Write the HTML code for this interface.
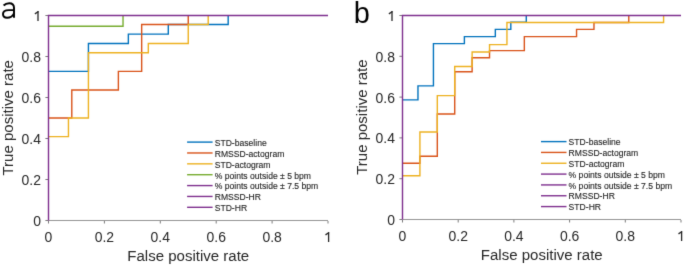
<!DOCTYPE html>
<html><head><meta charset="utf-8"><style>
html,body{margin:0;padding:0;background:#fff;}
svg{display:block;will-change:transform;}
text{font-family:"Liberation Sans",sans-serif;}
.tl{font-size:14.9px;fill:#262626;}
.al{font-size:15.5px;fill:#262626;}
.lg{font-size:8.6px;fill:#262626;stroke:#262626;stroke-width:0.12px;}
.pl{font-size:29.5px;fill:#000;}
</style></head><body>
<svg width="685" height="266" viewBox="0 0 685 266">
<defs><filter id="sf" x="0" y="0" width="1" height="1" color-interpolation-filters="sRGB"><feConvolveMatrix order="3" kernelMatrix="0.0100 0.0800 0.0100 0.0800 0.6400 0.0800 0.0100 0.0800 0.0100" divisor="1" edgeMode="duplicate"/></filter></defs>
<g filter="url(#sf)">
<rect width="685" height="266" fill="#fff"/>
<path d="M48.5 220.5H328M48.5 220.5V15.5" stroke="#959595" stroke-width="1.0" fill="none"/>
<path d="M48.50 221.0v2.5 M48.0 220.50h-2.6 M104.40 221.0v2.5 M48.0 179.50h-2.6 M160.30 221.0v2.5 M48.0 138.50h-2.6 M216.20 221.0v2.5 M48.0 97.50h-2.6 M272.10 221.0v2.5 M48.0 56.50h-2.6 M328.00 221.0v2.5 M48.0 15.50h-2.6" stroke="#7a7a7a" stroke-width="1.0" fill="none"/>
<path d="M48.5 71.41 L88.43 71.41 L88.43 43.45 L128.36 43.45 L128.36 34.14 L168.29 34.14 L168.29 24.55 L228.18 24.55 L228.18 15.5" stroke="#0072BD" stroke-width="1.4" fill="none" stroke-linejoin="miter" stroke-linecap="butt"/>
<path d="M48.5 118.0 L71.79 118.0 L71.79 90.05 L118.38 90.05 L118.38 71.41 L141.67 71.41 L141.67 24.55 L188.25 24.55 L188.25 15.5" stroke="#D95319" stroke-width="1.4" fill="none" stroke-linejoin="miter" stroke-linecap="butt"/>
<path d="M48.5 136.64 L68.46 136.64 L68.46 118.0 L88.43 118.0 L88.43 52.77 L148.32 52.77 L148.32 43.45 L188.25 43.45 L188.25 24.55 L208.21 24.55 L208.21 15.5" stroke="#EDB120" stroke-width="1.4" fill="none" stroke-linejoin="miter" stroke-linecap="butt"/>
<path d="M48.5 26.29 L123.03 26.29 L123.03 15.5" stroke="#77AC30" stroke-width="1.4" fill="none" stroke-linejoin="miter" stroke-linecap="butt"/>
<path d="M48.5 220.5 L48.5 15.5 L328.0 15.5" stroke="#7E2F8E" stroke-width="1.4" fill="none" stroke-linejoin="miter" stroke-linecap="butt"/>
<text transform="translate(48.50 242.00) scale(0.937 1.0)" text-anchor="middle" class="tl">0</text>
<text transform="translate(41.00 226.00) scale(0.937 1.0)" text-anchor="end" class="tl">0</text>
<text transform="translate(104.40 242.00) scale(0.937 1.0)" text-anchor="middle" class="tl">0.2</text>
<text transform="translate(41.00 185.00) scale(0.937 1.0)" text-anchor="end" class="tl">0.2</text>
<text transform="translate(160.30 242.00) scale(0.937 1.0)" text-anchor="middle" class="tl">0.4</text>
<text transform="translate(41.00 144.00) scale(0.937 1.0)" text-anchor="end" class="tl">0.4</text>
<text transform="translate(216.20 242.00) scale(0.937 1.0)" text-anchor="middle" class="tl">0.6</text>
<text transform="translate(41.00 103.00) scale(0.937 1.0)" text-anchor="end" class="tl">0.6</text>
<text transform="translate(272.10 242.00) scale(0.937 1.0)" text-anchor="middle" class="tl">0.8</text>
<text transform="translate(41.00 62.00) scale(0.937 1.0)" text-anchor="end" class="tl">0.8</text>
<path d="M328.60 242.00V232.10" stroke="#262626" stroke-width="1.3" fill="none"/><path d="M329.05 232.45L325.50 234.85" stroke="#262626" stroke-width="1.3" fill="none"/>
<path d="M38.00 21.00V11.10" stroke="#262626" stroke-width="1.3" fill="none"/><path d="M38.45 11.45L34.90 13.85" stroke="#262626" stroke-width="1.3" fill="none"/>
<text transform="translate(188.25 260.50) scale(0.97 1.0)" text-anchor="middle" class="al">False positive rate</text>
<text transform="translate(12.7 117.80) rotate(-90) scale(0.97 1.0)" text-anchor="middle" class="al">True positive rate</text>
<path d="M187.1 142.10h25.5" stroke="#0072BD" stroke-width="1.4"/>
<text transform="translate(214.70 145.90) scale(1.0 1.15)" text-anchor="start" class="lg">STD-baseline</text>
<path d="M187.1 152.97h25.5" stroke="#D95319" stroke-width="1.4"/>
<text transform="translate(214.70 156.77) scale(1.0 1.15)" text-anchor="start" class="lg">RMSSD-actogram</text>
<path d="M187.1 163.84h25.5" stroke="#EDB120" stroke-width="1.4"/>
<text transform="translate(214.70 167.64) scale(1.0 1.15)" text-anchor="start" class="lg">STD-actogram</text>
<path d="M187.1 174.71h25.5" stroke="#77AC30" stroke-width="1.4"/>
<text transform="translate(214.70 178.51) scale(1.0 1.15)" text-anchor="start" class="lg">% points outside ± 5 bpm</text>
<path d="M187.1 185.58h25.5" stroke="#7E2F8E" stroke-width="1.4"/>
<text transform="translate(214.70 189.38) scale(1.0 1.15)" text-anchor="start" class="lg">% points outside ± 7.5 bpm</text>
<path d="M187.1 196.45h25.5" stroke="#7E2F8E" stroke-width="1.4"/>
<text transform="translate(214.70 200.25) scale(1.0 1.15)" text-anchor="start" class="lg">RMSSD-HR</text>
<path d="M187.1 207.32h25.5" stroke="#7E2F8E" stroke-width="1.4"/>
<text transform="translate(214.70 211.12) scale(1.0 1.15)" text-anchor="start" class="lg">STD-HR</text>
<path d="M3.6 5.5C5.1 3.9 7.1 3.2 9.2 3.2C12.4 3.2 14.0 4.8 14.0 7.8V17.8M14.0 10.1H8.8C5.0 10.1 3.0 11.6 3.0 14.1C3.0 16.4 4.7 17.8 7.1 17.8C10.2 17.8 12.6 16.2 14.0 13.4" stroke="#000" stroke-width="1.95" fill="none"/>
<path d="M402.5 219.5H681M402.5 219.5V15.5" stroke="#959595" stroke-width="1.0" fill="none"/>
<path d="M402.50 220.0v2.5 M402.0 219.50h-2.6 M458.20 220.0v2.5 M402.0 178.70h-2.6 M513.90 220.0v2.5 M402.0 137.90h-2.6 M569.60 220.0v2.5 M402.0 97.10h-2.6 M625.30 220.0v2.5 M402.0 56.30h-2.6 M681.00 220.0v2.5 M402.0 15.50h-2.6" stroke="#7a7a7a" stroke-width="1.0" fill="none"/>
<path d="M402.5 99.91 L417.97 99.91 L417.97 85.84 L433.44 85.84 L433.44 43.64 L464.39 43.64 L464.39 36.6 L495.33 36.6 L495.33 29.35 L510.81 29.35 L510.81 22.3 L526.28 22.3 L526.28 15.5" stroke="#0072BD" stroke-width="1.4" fill="none" stroke-linejoin="miter" stroke-linecap="butt"/>
<path d="M402.5 163.22 L419.91 163.22 L419.91 156.19 L437.31 156.19 L437.31 113.98 L454.72 113.98 L454.72 71.78 L472.12 71.78 L472.12 57.71 L489.53 57.71 L489.53 50.67 L524.34 50.67 L524.34 36.6 L576.56 36.6 L576.56 29.35 L593.97 29.35 L593.97 22.45 L628.78 22.45 L628.78 15.5" stroke="#D95319" stroke-width="1.4" fill="none" stroke-linejoin="miter" stroke-linecap="butt"/>
<path d="M402.5 175.79 L419.91 175.79 L419.91 132.07 L437.31 132.07 L437.31 95.64 L454.72 95.64 L454.72 66.5 L472.12 66.5 L472.12 51.93 L489.53 51.93 L489.53 44.64 L506.94 44.64 L506.94 22.45 L663.59 22.45 L663.59 15.5" stroke="#EDB120" stroke-width="1.4" fill="none" stroke-linejoin="miter" stroke-linecap="butt"/>
<path d="M402.5 219.5 L402.5 15.5 L681.0 15.5" stroke="#7E2F8E" stroke-width="1.4" fill="none" stroke-linejoin="miter" stroke-linecap="butt"/>
<text transform="translate(402.50 241.00) scale(0.937 1.0)" text-anchor="middle" class="tl">0</text>
<text transform="translate(395.00 225.00) scale(0.937 1.0)" text-anchor="end" class="tl">0</text>
<text transform="translate(458.20 241.00) scale(0.937 1.0)" text-anchor="middle" class="tl">0.2</text>
<text transform="translate(395.00 184.20) scale(0.937 1.0)" text-anchor="end" class="tl">0.2</text>
<text transform="translate(513.90 241.00) scale(0.937 1.0)" text-anchor="middle" class="tl">0.4</text>
<text transform="translate(395.00 143.40) scale(0.937 1.0)" text-anchor="end" class="tl">0.4</text>
<text transform="translate(569.60 241.00) scale(0.937 1.0)" text-anchor="middle" class="tl">0.6</text>
<text transform="translate(395.00 102.60) scale(0.937 1.0)" text-anchor="end" class="tl">0.6</text>
<text transform="translate(625.30 241.00) scale(0.937 1.0)" text-anchor="middle" class="tl">0.8</text>
<text transform="translate(395.00 61.80) scale(0.937 1.0)" text-anchor="end" class="tl">0.8</text>
<path d="M681.60 241.00V231.10" stroke="#262626" stroke-width="1.3" fill="none"/><path d="M682.05 231.45L678.50 233.85" stroke="#262626" stroke-width="1.3" fill="none"/>
<path d="M392.00 21.00V11.10" stroke="#262626" stroke-width="1.3" fill="none"/><path d="M392.45 11.45L388.90 13.85" stroke="#262626" stroke-width="1.3" fill="none"/>
<text transform="translate(541.75 259.50) scale(0.97 1.0)" text-anchor="middle" class="al">False positive rate</text>
<text transform="translate(366.9 117.10) rotate(-90) scale(0.97 1.0)" text-anchor="middle" class="al">True positive rate</text>
<path d="M541 141.60h25.5" stroke="#0072BD" stroke-width="1.4"/>
<text transform="translate(568.60 145.20) scale(1.0 1.15)" text-anchor="start" class="lg">STD-baseline</text>
<path d="M541 152.43h25.5" stroke="#D95319" stroke-width="1.4"/>
<text transform="translate(568.60 156.03) scale(1.0 1.15)" text-anchor="start" class="lg">RMSSD-actogram</text>
<path d="M541 163.26h25.5" stroke="#EDB120" stroke-width="1.4"/>
<text transform="translate(568.60 166.86) scale(1.0 1.15)" text-anchor="start" class="lg">STD-actogram</text>
<path d="M541 174.09h25.5" stroke="#7E2F8E" stroke-width="1.4"/>
<text transform="translate(568.60 177.69) scale(1.0 1.15)" text-anchor="start" class="lg">% points outside ± 5 bpm</text>
<path d="M541 184.92h25.5" stroke="#7E2F8E" stroke-width="1.4"/>
<text transform="translate(568.60 188.52) scale(1.0 1.15)" text-anchor="start" class="lg">% points outside ± 7.5 bpm</text>
<path d="M541 195.75h25.5" stroke="#7E2F8E" stroke-width="1.4"/>
<text transform="translate(568.60 199.35) scale(1.0 1.15)" text-anchor="start" class="lg">RMSSD-HR</text>
<path d="M541 206.58h25.5" stroke="#7E2F8E" stroke-width="1.4"/>
<text transform="translate(568.60 210.18) scale(1.0 1.15)" text-anchor="start" class="lg">STD-HR</text>
<text transform="translate(353.80 22.70) scale(0.98 0.98)" text-anchor="start" class="pl">b</text>
</g>
</svg>
</body></html>
